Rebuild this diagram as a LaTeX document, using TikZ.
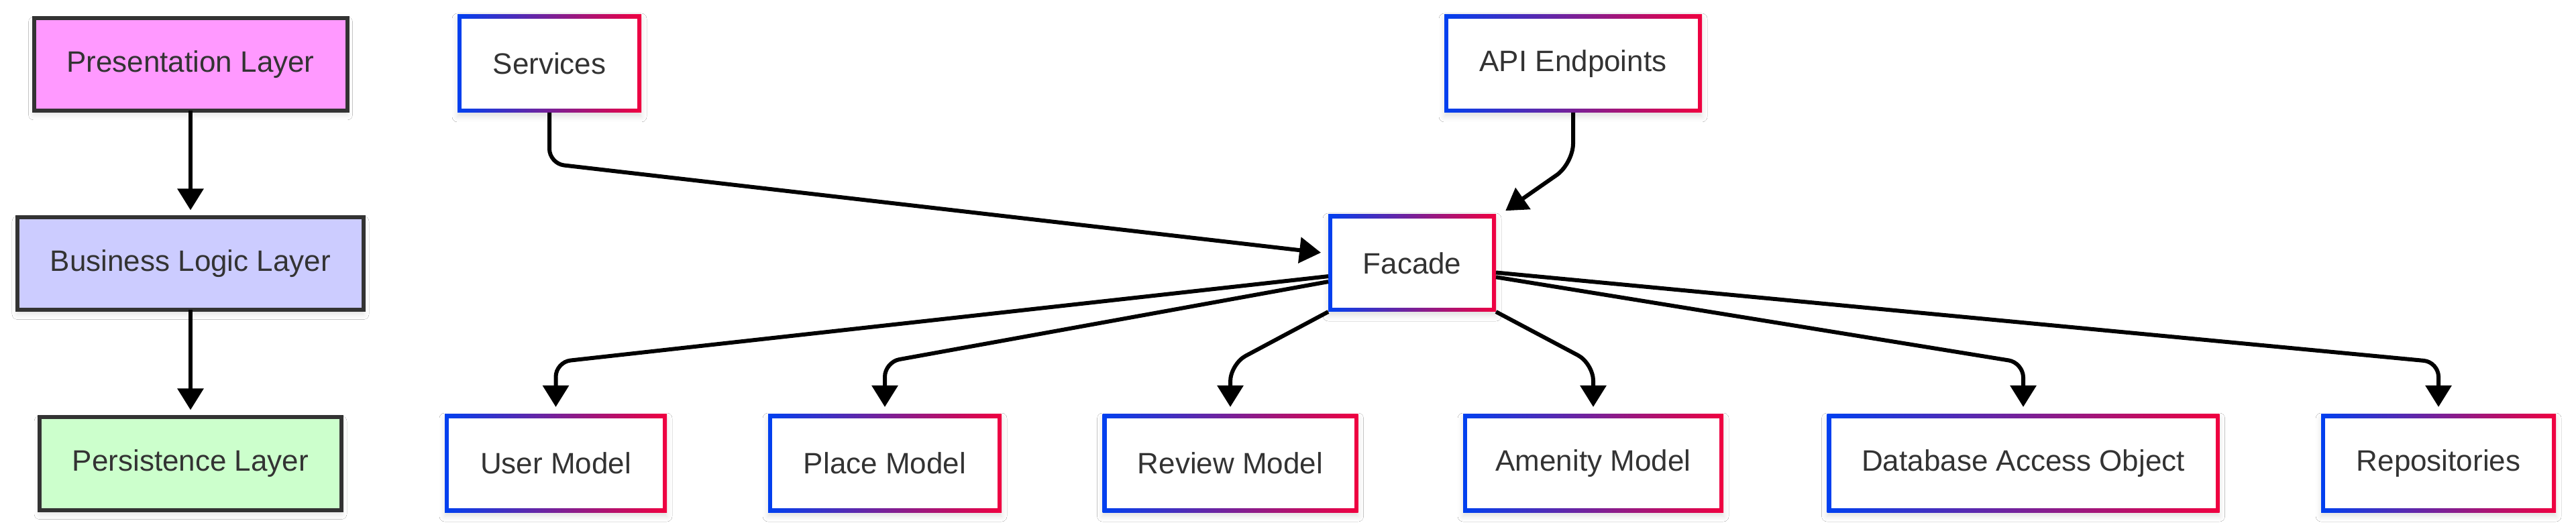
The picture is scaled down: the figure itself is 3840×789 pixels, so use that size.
\documentclass[tikz,border=0pt]{standalone}
\usepackage{fontspec}
\setmainfont{Liberation Sans}
\usetikzlibrary{arrows.meta,calc,shadows.blur}
\definecolor{gblue}{RGB}{0,64,240}
\definecolor{gred}{RGB}{240,0,64}
\definecolor{txt}{HTML}{333333}
\definecolor{edgegray}{HTML}{333333}
\definecolor{presfill}{HTML}{FF99FF}
\definecolor{busfill}{HTML}{CCCCFF}
\definecolor{persfill}{HTML}{CCFFCC}
\newcommand\labelfont{\fontsize{11pt}{13pt}\selectfont}
\tikzset{
  softshadow/.style={blur shadow={shadow xshift=0pt, shadow yshift=-1.5pt, shadow blur radius=2pt, shadow opacity=12}},
  gnode/.style={rectangle, inner sep=0pt, outer sep=0pt, minimum height=36.5pt,
    left color=gblue, right color=gred, text=txt, font=\labelfont, softshadow,
    path picture={\fill[white] ([shift={(1.5pt,1.5pt)}]path picture bounding box.south west) rectangle ([shift={(-1.5pt,-1.5pt)}]path picture bounding box.north east);}},
  layer/.style={rectangle, draw=edgegray, line width=1.5pt, inner sep=0pt, outer sep=0pt,
    minimum height=34.5pt, text=txt, font=\labelfont, softshadow},
  conn/.style={draw=black, line width=1.5pt, -{Triangle[width=9.5pt,length=8pt]}, shorten >=2.75pt, rounded corners=5.5pt},
}
\begin{document}
\begin{tikzpicture}[x=0.25pt,y=-0.25pt]
\useasboundingbox[fill=white] (0,0) rectangle (3840,789);
% layer column
\node[layer, fill=presfill, minimum width=116.75pt] (pres) at (284,96) {Presentation Layer};
\node[layer, fill=busfill, minimum width=129pt] (bus) at (284,393.5) {Business Logic Layer};
\node[layer, fill=persfill, minimum width=112.5pt] (pers) at (284,691.5) {Persistence Layer};
\draw[conn] (pres) -- (bus);
\draw[conn] (bus) -- (pers);
% top
\node[gnode, minimum width=68.5pt] (services) at (819,95) {Services};
\node[gnode, minimum width=96pt] (api) at (2345,95) {API Endpoints};
\node[gnode, minimum width=62.5pt, minimum height=36.25pt] (facade) at (2105,392.5) {Facade};
% bottom
\node[gnode, minimum width=82.75pt] (user) at (828.5,691) {User Model};
\node[gnode, minimum width=87pt] (place) at (1319,691) {Place Model};
\node[gnode, minimum width=95.25pt] (review) at (1834,691) {Review Model};
\node[gnode, minimum width=97pt] (amenity) at (2375,691) {Amenity Model};
\node[gnode, minimum width=146.25pt] (dao) at (3016,691) {Database Access Object};
\node[gnode, minimum width=87.5pt] (repos) at (3635,691) {Repositories};
% connectors into facade
\draw[conn] (services.south) -- ++(0,76) -- ([yshift=3.6pt]facade.west);
\draw[conn, rounded corners=7.5pt, shorten >=2.5pt] (api.south) -- ++(0,76) -- ([xshift=1.5pt]facade.north east);
% connectors out of facade
\draw[conn] ([yshift=-4.9pt]facade.west) -- ($(user.north)+(0,-78)$) -- (user.north);
\draw[conn] ([yshift=-6.9pt]facade.west) -- ($(place.north)+(0,-78)$) -- (place.north);
\draw[conn, rounded corners=6.5pt] (facade.south west) -- ($(review.north)+(0,-75)$) -- (review.north);
\draw[conn, rounded corners=6.5pt] (facade.south east) -- ($(amenity.north)+(0,-76)$) -- (amenity.north);
\draw[conn] ([yshift=-5.2pt]facade.east) -- ($(dao.north)+(0,-77)$) -- (dao.north);
\draw[conn] ([yshift=-3.5pt]facade.east) -- ($(repos.north)+(0,-78)$) -- (repos.north);
\end{tikzpicture}
\end{document}
